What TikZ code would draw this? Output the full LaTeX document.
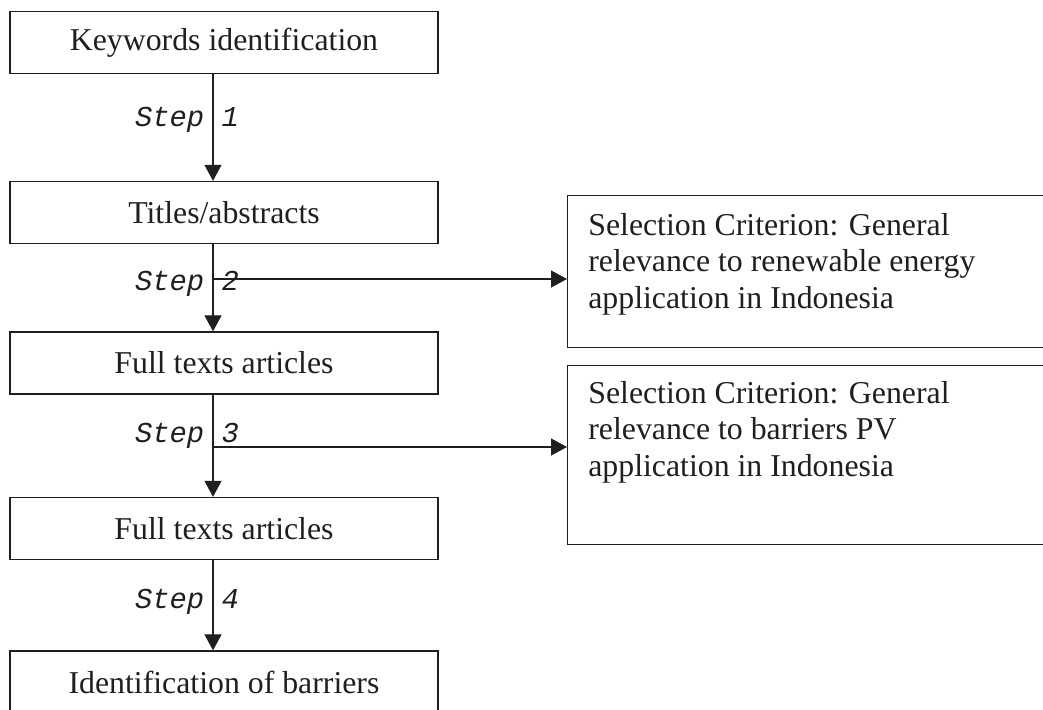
\documentclass[tikz,border=0pt]{standalone}
\usepackage{fontspec}
\setmainfont{Liberation Serif}
\setmonofont{Liberation Mono}
\usetikzlibrary{arrows.meta}
\colorlet{textfg}{black!88}
\colorlet{textbg}{white}
\tikzset{%
  stage box/.style={draw=textfg, line width=0.75pt, minimum width=8.56cm,
    minimum height=1.24cm, inner sep=0pt, font=\fontsize{18.1}{20.8}\selectfont},
  crit box/.style={draw=textfg, line width=0.75pt, anchor=north west,
    minimum width=12cm, inner sep=0pt},
  crit text/.style={anchor=north west, align=left, inner sep=0pt,
    font=\fontsize{18.1}{20.8}\selectfont},
  step label/.style={anchor=base, inner sep=0pt,
    font=\fontsize{16.4}{18}\selectfont\ttfamily\itshape},
  flow/.style={draw=textfg, line width=0.7pt,
    -{Triangle[length=0.32cm,width=0.34cm]}}
}

\begin{document}
\begin{tikzpicture}[x=0.02cm,y=-0.02cm,text=textfg]
    \useasboundingbox (0,0) rectangle (1043,709);
    \clip (0,0) rectangle (1043,709); % right boxes run off the page
    % left column of stages
    \node[stage box] (keywords) at (224,42.5) {Keywords identification};
    \node[stage box] (titles) at (224,212.5) {Titles/abstracts};
    \node[stage box] (fulltxtA) at (224,363) {Full texts articles};
    \node[stage box] (fulltxtB) at (224,528.5) {Full texts articles};
    \node[stage box] (barriers) at (224,682) {Identification of barriers};
    % selection criteria
    \node[crit box, minimum height=3.04cm] (critA) at (567,195) {};
    \node[crit text] (critAtxt) at (588,213) {Selection Criterion: General\\
      relevance to renewable energy\\application in Indonesia};
    \node[crit box, minimum height=3.58cm] (critB) at (567,365) {};
    \node[crit text] (critBtxt) at (588,381) {Selection Criterion: General\\
      relevance to barriers PV\\application in Indonesia};
    % steps
    \draw[flow] ([xshift=-0.22cm]keywords.south) -- ([xshift=-0.22cm]titles.north);
    \draw[flow] ([xshift=-0.22cm]titles.south) -- ([xshift=-0.22cm]fulltxtA.north);
    \draw[flow] ([xshift=-0.22cm]fulltxtA.south) -- ([xshift=-0.22cm]fulltxtB.north);
    \draw[flow] ([xshift=-0.22cm]fulltxtB.south) -- ([xshift=-0.22cm]barriers.north);
    \coordinate (split2) at (213,279);
    \coordinate (split3) at (213,447);
    \draw[flow] (split2) -- (split2 -| critA.west);
    \draw[flow] (split3) -- (split3 -| critB.west);
    \foreach \n/\y in {1/127, 2/290, 3/442, 4/608} {
      \node[step label] (step\n) at (187,\y) {Step \n};
    }
  \end{tikzpicture}
\end{document}
